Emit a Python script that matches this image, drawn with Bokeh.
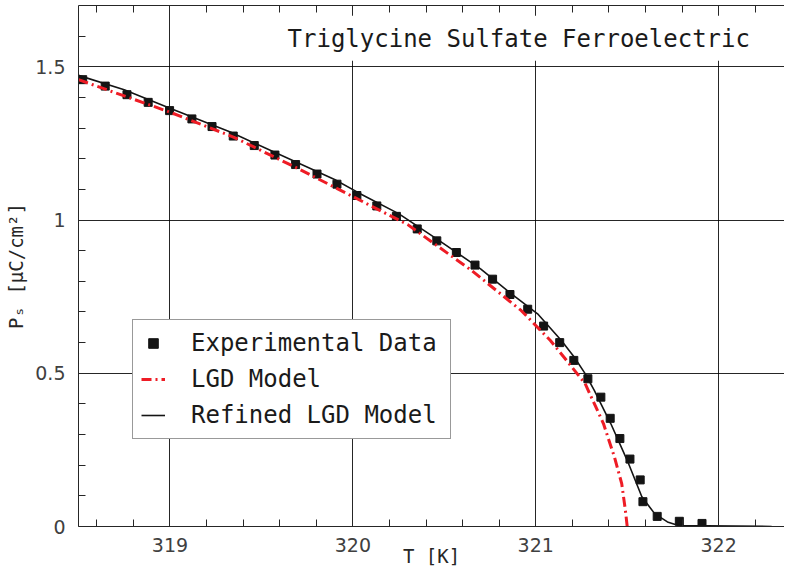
from bokeh.plotting import figure
from bokeh.models import (FixedTicker, LinearAxis, Range1d, Legend, LegendItem,
                          Label, BoxAnnotation)
from bokeh.embed import file_html
from bokeh.resources import INLINE

# ---- data ----
exp_T = [318.523, 318.646, 318.765, 318.881, 318.998, 319.120, 319.230, 319.346,
         319.461, 319.574, 319.687, 319.804, 319.913, 320.022, 320.131, 320.238,
         320.352, 320.459, 320.566, 320.668, 320.764, 320.859, 320.956, 321.043,
         321.131, 321.208, 321.285, 321.356, 321.407, 321.460, 321.515, 321.571,
         321.586, 321.664, 321.785, 321.909]
exp_P = [1.458, 1.437, 1.409, 1.384, 1.357, 1.330, 1.305, 1.274,
         1.243, 1.212, 1.181, 1.150, 1.117, 1.080, 1.046, 1.012,
         0.971, 0.932, 0.894, 0.853, 0.807, 0.757, 0.709, 0.654,
         0.600, 0.542, 0.482, 0.422, 0.353, 0.287, 0.220, 0.152,
         0.081, 0.033, 0.017, 0.010]

lgd_T = [318.50, 319.00, 319.35, 319.70, 320.09, 320.30, 320.65, 320.92,
         321.08, 321.16, 321.27, 321.37, 321.43, 321.47, 321.49, 321.50]
lgd_P = [1.458, 1.352, 1.270, 1.168, 1.049, 0.985, 0.835, 0.705,
         0.607, 0.548, 0.466, 0.336, 0.227, 0.140, 0.053, 0.0]

ref_T = [318.50, 318.75, 319.00, 319.33, 319.90, 320.04, 320.25, 320.45,
         320.70, 320.86, 321.01, 321.14, 321.21, 321.27, 321.32, 321.41,
         321.50, 321.58, 321.65, 321.72, 321.78, 322.29]
ref_P = [1.472, 1.425, 1.365, 1.287, 1.132, 1.086, 1.021, 0.942,
         0.840, 0.762, 0.694, 0.607, 0.553, 0.499, 0.444, 0.336,
         0.216, 0.097, 0.042, 0.015, 0.003, 0.0]

x_major = [319, 320, 321, 322]
x_minor = [318.6, 318.8, 319.2, 319.4, 319.6, 319.8, 320.2, 320.4, 320.6,
           320.8, 321.2, 321.4, 321.6, 321.8, 322.2]
y_major = [0, 0.5, 1, 1.5]
y_minor = [0.1, 0.2, 0.3, 0.4, 0.6, 0.7, 0.8, 0.9, 1.1, 1.2, 1.3, 1.4, 1.6]

title_text = "Triglycine Sulfate Ferroelectric"
x_label = "T [K]"
y_label = "P\u209b [\u03bcC/cm\u00b2]"
legend_labels = ["Experimental Data", "LGD Model", "Refined LGD Model"]

MONO = "DejaVu Sans Mono"
AX = "#262626"
X_END = 322.36

p = figure(width=784, height=571, x_range=Range1d(318.5, X_END),
           y_range=Range1d(0, 1.70), output_backend="svg", toolbar_location=None,
           min_border_left=78, min_border_right=0, min_border_top=5,
           min_border_bottom=45, x_axis_label=x_label, y_axis_label=y_label)
p.outline_line_color = None
p.background_fill_color = "white"
p.border_fill_color = "white"

bottom_ax = p.below[0]
left_ax = p.left[0]

xt = FixedTicker(ticks=x_major, minor_ticks=x_minor)
yt = FixedTicker(ticks=y_major, minor_ticks=y_minor)

top_ax = LinearAxis(ticker=xt)
p.add_layout(top_ax, "above")

for ax in [bottom_ax, left_ax, top_ax]:
    ax.axis_line_color = AX
    ax.axis_line_width = 1
    ax.major_tick_in = 10
    ax.major_tick_out = 0
    ax.minor_tick_in = 7
    ax.minor_tick_out = 0
    ax.major_tick_line_color = AX
    ax.minor_tick_line_color = AX
    ax.major_label_text_font = "DejaVu Sans"
    ax.major_label_text_font_size = "19px"
    ax.major_label_text_color = "#404040"
    ax.axis_label_text_font = MONO
    ax.axis_label_text_font_size = "19px"
    ax.axis_label_text_font_style = "normal"
    ax.axis_label_text_color = "#262626"

bottom_ax.ticker = xt
left_ax.ticker = yt
bottom_ax.major_label_standoff = 11
bottom_ax.axis_label_standoff = -10
left_ax.major_label_standoff = 13
left_ax.axis_label_standoff = 5
left_ax.major_label_overrides = {t: f"{t:g}" for t in y_major}
top_ax.major_label_overrides = {t: "" for t in x_major}
top_ax.major_label_text_font_size = "1px"
top_ax.major_label_standoff = 0

p.xgrid.ticker = xt
p.ygrid.ticker = yt
for g in [p.xgrid, p.ygrid]:
    g.grid_line_color = "black"
    g.grid_line_alpha = 0.85
    g.grid_line_width = 1

# title box (covers grid) and text
box = BoxAnnotation(left=319.58, right=X_END, bottom=1.52, top=1.667,
                    fill_color="white", fill_alpha=1.0, line_alpha=0,
                    level="underlay")
p.add_layout(box)
p.add_layout(Label(x=319.643, y=1.592, text=title_text, text_font=MONO,
                   text_font_size="24px", text_baseline="middle",
                   text_color="#1a1a1a"))

r_exp = p.scatter(exp_T, exp_P, marker="square", size=8, color="#141414")
r_lgd = p.line(lgd_T, lgd_P, color="#ee1c25", line_width=3, line_dash="10 4 2 4")
r_ref = p.line(ref_T, ref_P, color="#141414", line_width=1.6)

legend = Legend(items=[LegendItem(label=legend_labels[0], renderers=[r_exp]),
                       LegendItem(label=legend_labels[1], renderers=[r_lgd]),
                       LegendItem(label=legend_labels[2], renderers=[r_ref])],
                location=(54, 87))
legend.label_text_font = MONO
legend.label_text_font_size = "24px"
legend.label_text_color = "#1a1a1a"
legend.label_height = 30
legend.glyph_height = 30
legend.glyph_width = 24
legend.label_standoff = 26
legend.label_width = 251
legend.spacing = 6
legend.padding = 8
legend.margin = 0
legend.border_line_color = "#333333"
legend.border_line_width = 1
legend.background_fill_alpha = 1.0
p.add_layout(legend)

open("out.html", "w").write(file_html(p, INLINE))
